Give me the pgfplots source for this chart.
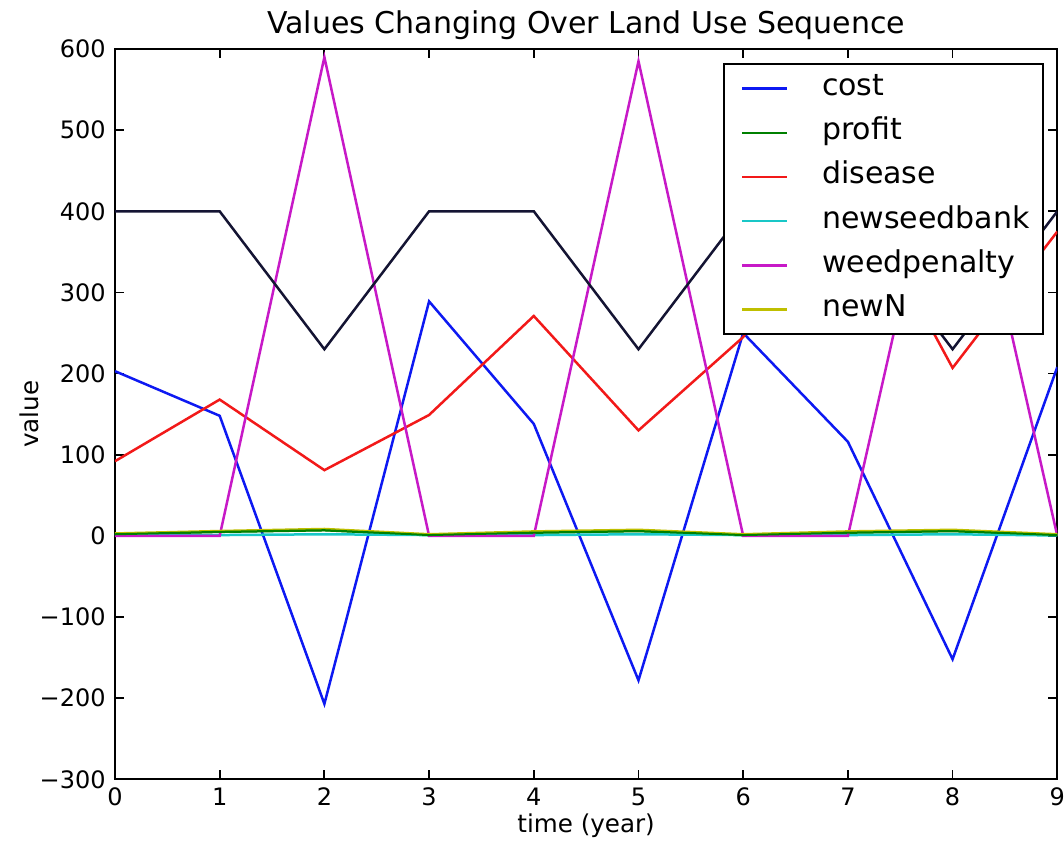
\documentclass[border=0pt]{standalone}
\usepackage{fontspec}
\setmainfont{DejaVu Sans}
\usepackage{pgfplots}
\pgfplotsset{compat=1.18}
\definecolor{mb}{rgb}{0.05,0.1,0.95}
\definecolor{mg}{rgb}{0,0.5,0}
\definecolor{mr}{rgb}{0.95,0.1,0.1}
\definecolor{mc}{rgb}{0.1,0.78,0.78}
\definecolor{mm}{rgb}{0.78,0.1,0.78}
\definecolor{my}{rgb}{0.75,0.75,0}
\definecolor{mk}{rgb}{0.08,0.08,0.2}
\begin{document}
\begin{tikzpicture}
\begin{axis}[
  name=ax, at={(0,0)}, anchor=south west,
  scale only axis, width=471.2bp, height=365.2bp,
  xmin=0, xmax=9, ymin=-300, ymax=600,
  xtick={0,1,...,9},
  ytick={-300,-200,...,600},
  yticklabels={−300,−200,−100,0,100,200,300,400,500,600},
  tick align=inside,
  major tick length=4.5bp,
  tick style={black, line width=0.9bp},
  axis line style={line width=1bp},
  ticklabel style={font=\fontsize{12bp}{14bp}\selectfont},
  /pgf/number format/assume math mode=true,
  x tick label style={anchor=base, yshift=-13bp, inner sep=0pt},
  y tick label style={anchor=east, xshift=-4.5bp, inner xsep=0pt},
  title={Values Changing Over Land Use Sequence},
  title style={at={(rel axis cs:0.5,1)}, anchor=base, yshift=2bp, inner sep=0pt, font=\fontsize{15bp}{18bp}\selectfont},
  xlabel={time (year)},
  xlabel style={at={(rel axis cs:0.5,0)}, anchor=base, yshift=-26.5bp, inner sep=0pt, font=\fontsize{12.3bp}{14bp}\selectfont},
  ylabel={value},
  ylabel style={at={([xshift=-38bp]rel axis cs:0,0.5)}, anchor=base, inner sep=0pt, font=\fontsize{12.3bp}{14bp}\selectfont},
  every axis plot/.append style={line width=1.25bp},
  legend cell align=left,
  legend image code/.code={\path[draw=none] (1bp,-5bp) rectangle (43.1bp,5bp); \draw[line width=1.25bp,#1] (3.1bp,0bp) -- (25.6bp,0bp);},
  legend style={at={(rel axis cs:1,1)}, anchor=north east, xshift=-6.5bp, yshift=-7bp,
    draw=black, line width=1bp, inner xsep=6.9bp, inner ysep=4.8bp,
    row sep=7.1bp, column sep=0pt,
    font=\fontsize{15bp}{18bp}\selectfont,
    nodes={inner sep=0pt, text height=11bp, text depth=4bp}},
]
\addplot[mb] coordinates {(0,203) (1,148) (2,-207) (3,289) (4,138) (5,-178) (6,250) (7,116) (8,-152) (9,208)};
\addlegendentry{cost}
\addplot[mg] coordinates {(0,2) (1,5) (2,7) (3,1) (4,4) (5,6) (6,1) (7,4) (8,6) (9,1)};
\addlegendentry{profit}
\addplot[mr] coordinates {(0,92) (1,168) (2,81) (3,149) (4,271) (5,130) (6,245) (7,445) (8,207) (9,375)};
\addlegendentry{disease}
\addplot[mc] coordinates {(0,1) (1,1) (2,2) (3,1) (4,1) (5,2) (6,1) (7,1) (8,2) (9,0.5)};
\addlegendentry{newseedbank}
\addplot[mm] coordinates {(0,0) (1,0) (2,590) (3,0) (4,0) (5,585) (6,0) (7,0) (8,570) (9,0)};
\addlegendentry{weedpenalty}
\addplot[my] coordinates {(0,3) (1,6) (2,8.5) (3,2) (4,5.5) (5,7.5) (6,2) (7,5.5) (8,7.5) (9,2)};
\addlegendentry{newN}
\addplot[mk, forget plot] coordinates {(0,400) (1,400) (2,230) (3,400) (4,400) (5,230) (6,400) (7,400) (8,230) (9,400)};
\addplot[mg, forget plot, line width=1bp] coordinates {(0,2) (1,5) (2,7) (3,1) (4,4) (5,6) (6,1) (7,4) (8,6) (9,1)};
\end{axis}
\pgfresetboundingbox
\path[use as bounding box] (-57.5bp,-33.85bp) rectangle (474.55bp,389.7bp);
\end{tikzpicture}
\end{document}
